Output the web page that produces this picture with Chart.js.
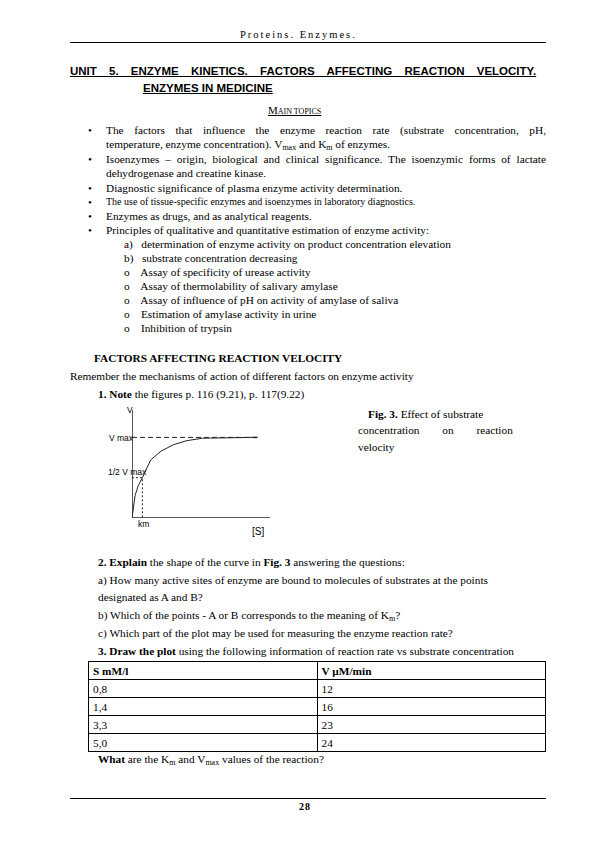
<!DOCTYPE html>
<html><head><meta charset="utf-8">
<script src="https://cdn.jsdelivr.net/npm/chart.js"></script>
<style>
body{margin:0;width:595px;height:842px;position:relative;background:#fff;font-family:"Liberation Serif",serif;font-size:11.3px;color:#000}
.a{position:absolute;white-space:nowrap}
.j{position:absolute;left:106px;width:440px;text-align:justify;text-align-last:justify;white-space:nowrap}
.b{font-weight:bold}
sub{font-size:8px;vertical-align:-2px;line-height:0}
.bul{position:absolute;left:88px}
table{position:absolute;left:88px;top:661px;border-collapse:collapse;width:458px}
td{border:1px solid #000;height:17px;padding:0 4px;font-size:11.3px}
.lab{font-family:'Liberation Sans';font-size:8.5px}
</style></head><body>
<div class="a" style="left:240px;top:29px;letter-spacing:2px;font-size:10.5px">Proteins. Enzymes.</div>
<div class="a" style="left:70px;top:42px;width:476px;border-top:1px solid #000"></div>
<div class="a b" style="left:70px;top:65px;font-family:'Liberation Sans';font-size:11.5px;text-decoration:underline;word-spacing:9px">UNIT 5. ENZYME KINETICS. FACTORS AFFECTING REACTION VELOCITY.</div>
<div class="a b" style="left:143px;top:82px;font-family:'Liberation Sans';font-size:11.5px;text-decoration:underline">ENZYMES IN MEDICINE</div>
<div class="a" style="left:268px;top:104px;text-decoration:underline;font-size:11px">M<span style="font-size:8px">AIN TOPICS</span></div>
<div class="bul a" style="top:124px">•</div><div class="j" style="top:124px">The factors that influence the enzyme reaction rate (substrate concentration, pH,</div>
<div class="a" style="left:106px;top:138px">temperature, enzyme concentration). V<sub>max</sub> and K<sub>m</sub> of enzymes.</div>
<div class="bul a" style="top:153px">•</div><div class="j" style="top:153px">Isoenzymes – origin, biological and clinical significance. The isoenzymic forms of lactate</div>
<div class="a" style="left:106px;top:167px">dehydrogenase and creatine kinase.</div>
<div class="bul a" style="top:182px">•</div><div class="a" style="left:106px;top:182px">Diagnostic significance of plasma enzyme activity determination.</div>
<div class="bul a" style="top:196px">•</div><div class="a" style="left:106px;top:196px;font-size:10px">The use of tissue-specific enzymes and isoenzymes in laboratory diagnostics.</div>
<div class="bul a" style="top:210px">•</div><div class="a" style="left:106px;top:210px">Enzymes as drugs, and as analytical reagents.</div>
<div class="bul a" style="top:224px">•</div><div class="a" style="left:106px;top:224px">Principles of qualitative and quantitative estimation of enzyme activity:</div>
<div class="a" style="left:124px;top:238px">a)&nbsp;&nbsp; determination of enzyme activity on product concentration elevation</div>
<div class="a" style="left:124px;top:252px">b)&nbsp;&nbsp; substrate concentration decreasing</div>
<div class="a" style="left:124px;top:266px">o&nbsp;&nbsp;&nbsp; Assay of specificity of urease activity</div>
<div class="a" style="left:124px;top:280px">o&nbsp;&nbsp;&nbsp; Assay of thermolability of salivary amylase</div>
<div class="a" style="left:124px;top:294px">o&nbsp;&nbsp;&nbsp; Assay of influence of pH on activity of amylase of saliva</div>
<div class="a" style="left:124px;top:308px">o&nbsp;&nbsp;&nbsp; Estimation of amylase activity in urine</div>
<div class="a" style="left:124px;top:322px">o&nbsp;&nbsp;&nbsp; Inhibition of trypsin</div>
<div class="a b" style="left:94px;top:352px">FACTORS AFFECTING REACTION VELOCITY</div>
<div class="a" style="left:70px;top:370px">Remember the mechanisms of action of different factors on enzyme activity</div>
<div class="a" style="left:98px;top:388px"><b>1. Note</b> the figures p. 116 (9.21), p. 117(9.22)</div>
<div class="a" style="left:368px;top:408px"><b>Fig. 3.</b> Effect of substrate</div>
<div class="a" style="left:358px;top:424px;word-spacing:20px">concentration on reaction</div>
<div class="a" style="left:358px;top:441px">velocity</div>
<div class="a lab" style="left:127px;top:405px">V</div>
<div class="a lab" style="left:109px;top:433px">V max</div>
<div class="a lab" style="left:108px;top:467px">1/2 V max</div>
<div class="a lab" style="left:138px;top:519px">km</div>
<div class="a" style="left:252px;top:526px;font-family:'Liberation Sans';font-size:10px">[S]</div>
<div class="a" style="left:127px;top:407px;width:145px;height:113px"><canvas id="c"></canvas></div>
<div class="a" style="left:98px;top:556px"><b>2. Explain</b> the shape of the curve in <b>Fig. 3</b> answering the questions:</div>
<div class="a" style="left:98px;top:574px">a) How many active sites of enzyme are bound to molecules of substrates at the points</div>
<div class="a" style="left:98px;top:591px">designated as A and B?</div>
<div class="a" style="left:98px;top:609px">b) Which of the points - A or B corresponds to the meaning of K<sub>m</sub>?</div>
<div class="a" style="left:98px;top:627px">c) Which part of the plot may be used for measuring the enzyme reaction rate?</div>
<div class="a" style="left:98px;top:645px"><b>3. Draw the plot</b> using the following information of reaction rate vs substrate concentration</div>
<table id="t"></table>
<div class="a" style="left:98px;top:753px"><b>What</b> are the K<sub>m</sub> and V<sub>max</sub> values of the reaction?</div>
<div class="a" style="left:70px;top:798px;width:476px;border-top:1px solid #000"></div>
<div class="a b" style="left:299px;top:801px;font-size:10px;letter-spacing:1px">28</div>
<script>
const tableHead=["S mM/l","V µM/min"];
const tableS=["0,8","1,4","3,3","5,0"];
const tableV=["12","16","23","24"];
const curveS=[0,0.3,0.6,1.0,1.8,2.8,4.0,5.3,6.8,11.6];
const curveV=[0,2.8,4.0,5.0,7.2,8.3,9.1,9.6,9.9,10];
const vmax=10, km=1.0, xMax=13.3, yMax=13.4;
let h='<tr><td class="b" style="width:50%">'+tableHead[0]+'</td><td class="b">'+tableHead[1]+'</td></tr>';
tableS.forEach((s,i)=>h+='<tr><td>'+s+'</td><td>'+tableV[i]+'</td></tr>');
document.getElementById('t').innerHTML=h;
const ln=(d,dash,w)=>({data:d,borderColor:'#222',borderWidth:w||1,borderDash:dash||[],pointRadius:0,fill:false,tension:0});
new Chart(document.getElementById('c'),{type:'line',
data:{datasets:[
 ln(curveS.map((x,i)=>({x,y:curveV[i]})),[],1),
 ln([{x:curveS[curveS.length-1],y:vmax},{x:xMax*0.91,y:vmax}],[],1.5),
 ln([{x:0,y:vmax},{x:curveS[curveS.length-1],y:vmax}],[5,3]),
 ln([{x:0,y:vmax/2},{x:km,y:vmax/2},{x:km,y:0}],[2,2]),
 ln([{x:0,y:yMax},{x:0,y:0},{x:xMax,y:0}],[],1.5)
]},
options:{responsive:true,maintainAspectRatio:false,animation:false,layout:{padding:{left:5,top:3,bottom:2,right:2}},
 plugins:{legend:{display:false},tooltip:{enabled:false}},
 scales:{x:{type:'linear',display:false,min:0,max:xMax},y:{display:false,min:0,max:yMax}}}});
</script>
</body></html>
